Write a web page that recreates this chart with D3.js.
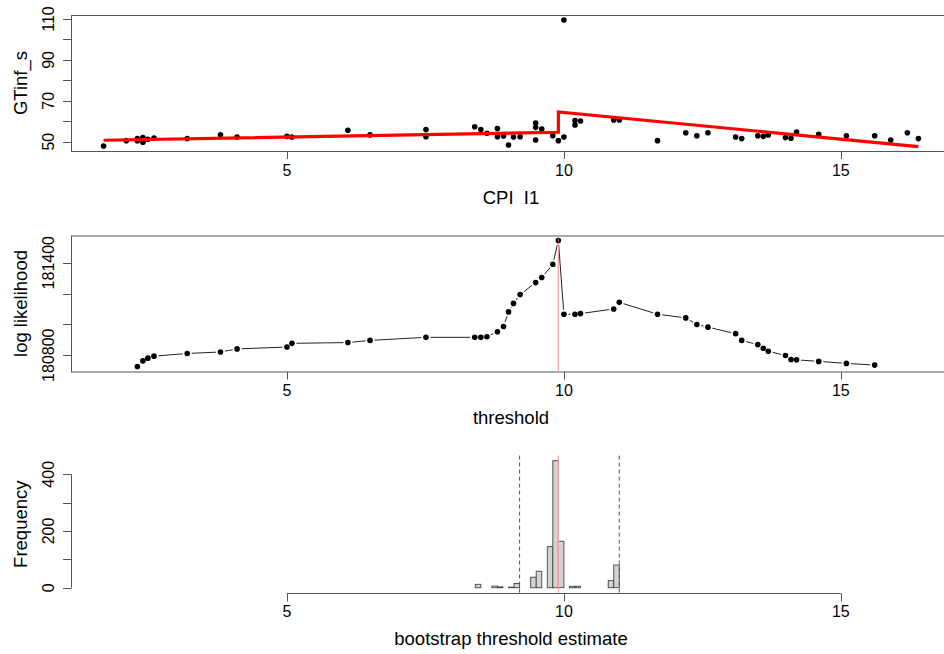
<!DOCTYPE html>
<html>
<head>
<meta charset="utf-8">
<script src="https://cdn.jsdelivr.net/npm/d3@7"></script>
<style>
  html, body { margin: 0; padding: 0; background: #fff; }
  svg { display: block; }
  text { font-family: "Liberation Sans", Arial, Helvetica, sans-serif; fill: #000; }
</style>
</head>
<body>
<svg id="chart" width="944" height="654"></svg>
<script>
// ---- Panel 1: GTinf_s against CPI_I1 with the two-regime fit ----
const cpi = [1.69, 2.10, 2.30, 2.30, 2.40, 2.40, 2.49, 2.60, 3.20, 3.80, 4.10, 5.00, 5.09, 6.10, 6.50,
  7.51, 7.51, 8.39, 8.50, 8.61, 8.80, 8.80, 8.91, 9.00, 9.09, 9.21, 9.49, 9.49, 9.49, 9.60, 9.80, 9.90,
  10.00, 10.00, 10.20, 10.20, 10.30, 10.90, 11.00, 11.69, 12.20, 12.40, 12.60, 13.10, 13.21, 13.50,
  13.60, 13.69, 14.00, 14.10, 14.20, 14.60, 15.10, 15.61, 15.90, 16.20, 16.40];
const gtinf = [47.9, 50.5, 51.5, 50.5, 52.0, 49.7, 51.2, 51.8, 51.5, 53.4, 52.3, 52.6, 52.3, 55.6, 53.3,
  55.9, 52.4, 57.3, 55.9, 54.1, 56.4, 52.4, 52.8, 48.4, 52.3, 52.4, 59.1, 57.0, 50.8, 56.2, 52.9, 50.5,
  52.3, 109.5, 60.3, 58.2, 60.1, 60.6, 60.6, 50.5, 54.4, 52.9, 54.4, 52.3, 51.5, 52.9, 52.6, 53.3,
  52.0, 51.7, 54.7, 53.6, 52.9, 52.9, 50.8, 54.4, 51.5];
// fitted regimes: below and above the threshold
const fitX = [1.69, 9.90, 9.90, 16.40];
const fitY = [50.7, 54.6, 64.5, 47.6];
const gtTicks = [50, 60, 70, 80, 90, 100, 110];
const gtLabels = [50, 70, 90, 110];

// ---- Panel 2: profile log likelihood over candidate thresholds ----
const thresholds = [2.30, 2.40, 2.49, 2.60, 3.20, 3.80, 4.10, 5.00, 5.09, 6.10, 6.50, 7.51, 8.39, 8.50,
  8.61, 8.80, 8.91, 9.00, 9.09, 9.21, 9.49, 9.60, 9.80, 9.90, 10.00, 10.20, 10.30, 10.90, 11.00, 11.69,
  12.20, 12.40, 12.60, 13.10, 13.21, 13.50, 13.60, 13.69, 14.00, 14.10, 14.20, 14.60, 15.10, 15.61];
const logLik = [180727, 180763, 180781, 180794, 180811, 180821, 180841, 180853, 180877, 180882,
  180896, 180916, 180916, 180916, 180920, 180952, 180986, 181081, 181136, 181194,
  181271, 181304, 181390, 181544, 181066, 181066, 181070, 181100, 181143, 181066,
  181042, 180999, 180982, 180940, 180896, 180869, 180845, 180826, 180798, 180772,
  180770, 180760, 180747, 180736];
const llTicks = [180800, 181000, 181200, 181400];
const llLabels = [180800, 181400];
const thresholdHat = 9.90;

// ---- Panel 3: bootstrap distribution of the threshold ----
const binStarts = [8.4, 8.5, 8.6, 8.7, 8.8, 8.9, 9.0, 9.1, 9.2, 9.3, 9.4, 9.5, 9.6, 9.7, 9.8, 9.9,
  10.0, 10.1, 10.2, 10.3, 10.4, 10.5, 10.6, 10.7, 10.8, 10.9];
const binCounts = [12, 0, 0, 6, 3, 0, 2, 15, 0, 0, 37, 58, 0, 145, 448, 164,
  0, 5, 5, 0, 0, 0, 0, 0, 25, 80];
const binWidth = 0.1;
const ciBounds = [9.2, 11.0];
const freqTicks = [0, 100, 200, 300, 400];
const freqLabels = [0, 200, 400];

const xTicks = [5, 10, 15];

const svg = d3.select("#chart");
const plotLeft = 71, plotRight = 951;
const tickFont = 16, titleFont = 18.5, tickLen = 8;
const axisCol = "#555";

// R-style 4% padded limits
function padded(ext) {
  const r = ext[1] - ext[0];
  return [ext[0] - 0.04 * r, ext[1] + 0.04 * r];
}

const x = d3.scaleLinear().domain(padded(d3.extent(cpi))).range([plotLeft, plotRight]);

function panelFrame(top, bottom, y, yTicks, yLabels, yTitle, xTitle) {
  const g = svg.append("g");
  g.append("rect")
    .attr("x", plotLeft + 0.5).attr("y", top + 0.5)
    .attr("width", plotRight - plotLeft).attr("height", bottom - top)
    .attr("fill", "none").attr("stroke", axisCol).attr("stroke-width", 1);
  // x ticks
  xTicks.forEach(t => {
    const px = Math.round(x(t)) + 0.5;
    g.append("line").attr("x1", px).attr("x2", px)
      .attr("y1", bottom + 0.5).attr("y2", bottom + tickLen)
      .attr("stroke", axisCol);
    g.append("text").attr("x", x(t)).attr("y", bottom + 24.5)
      .attr("text-anchor", "middle").attr("font-size", tickFont).text(t);
  });
  // y ticks
  yTicks.forEach(t => {
    const py = Math.round(y(t)) + 0.5;
    g.append("line").attr("x1", plotLeft - tickLen).attr("x2", plotLeft + 0.5)
      .attr("y1", py).attr("y2", py).attr("stroke", axisCol);
  });
  yLabels.forEach(t => {
    g.append("text")
      .attr("transform", `translate(54,${y(t)}) rotate(-90)`)
      .attr("text-anchor", "middle").attr("font-size", tickFont).text(t);
  });
  g.append("text")
    .attr("transform", `translate(27,${(top + bottom) / 2}) rotate(-90)`)
    .attr("text-anchor", "middle").attr("font-size", titleFont).text(yTitle);
  g.append("text").attr("x", (plotLeft + plotRight) / 2).attr("y", bottom + 52.5)
    .attr("text-anchor", "middle").attr("font-size", titleFont)
    .attr("xml:space", "preserve").style("white-space", "pre").text(xTitle);
  return g;
}

// ---------- Panel 1 ----------
{
  const top = 15, bottom = 151;
  const y = d3.scaleLinear().domain(padded(d3.extent(gtinf))).range([bottom, top]);
  const g = panelFrame(top, bottom, y, gtTicks, gtLabels, "GTinf_s", "CPI  I1");
  const pts = cpi.map((v, i) => [v, gtinf[i]]);
  g.append("g").selectAll("circle").data(pts).join("circle")
    .attr("cx", d => x(d[0])).attr("cy", d => y(d[1])).attr("r", 2.8).attr("fill", "#000");
  const fit = fitX.map((v, i) => [v, fitY[i]]);
  g.append("path").datum(fit)
    .attr("d", d3.line().x(d => x(d[0])).y(d => y(d[1])))
    .attr("fill", "none").attr("stroke", "#ff0000").attr("stroke-width", 3.2);
}

// ---------- Panel 2 ----------
{
  const top = 235.5, bottom = 371.5;
  const y = d3.scaleLinear().domain(padded(d3.extent(logLik))).range([bottom, top]);
  const g = panelFrame(top, bottom, y, llTicks, llLabels, "log likelihood", "threshold");
  const pts = thresholds.map((v, i) => [x(v), y(logLik[i])]);
  // connecting segments with a gap around each point
  const gap = 4.5;
  for (let i = 0; i < pts.length - 1; i++) {
    const [x0, y0] = pts[i], [x1, y1] = pts[i + 1];
    const len = Math.hypot(x1 - x0, y1 - y0);
    if (len <= 2 * gap) continue;
    const ux = (x1 - x0) / len, uy = (y1 - y0) / len;
    g.append("line")
      .attr("x1", x0 + ux * gap).attr("y1", y0 + uy * gap)
      .attr("x2", x1 - ux * gap).attr("y2", y1 - uy * gap)
      .attr("stroke", "#222").attr("stroke-width", 1);
  }
  g.append("line")
    .attr("x1", x(thresholdHat)).attr("x2", x(thresholdHat))
    .attr("y1", top).attr("y2", bottom)
    .attr("stroke", "#f4a3ac").attr("stroke-width", 1.2);
  g.append("g").selectAll("circle").data(pts).join("circle")
    .attr("cx", d => d[0]).attr("cy", d => d[1]).attr("r", 2.8).attr("fill", "#000");
  g.append("line")
    .attr("x1", x(thresholdHat)).attr("x2", x(thresholdHat))
    .attr("y1", top).attr("y2", bottom)
    .attr("stroke", "#f4a3ac").attr("stroke-width", 1).attr("opacity", 0.55);
}

// ---------- Panel 3 ----------
{
  const top = 455.6, bottom = 592.8;
  const y = d3.scaleLinear().domain(padded([0, d3.max(binCounts)])).range([bottom, top]);
  const g = svg.append("g");
  // bars
  g.append("g").selectAll("rect").data(binStarts.map((b, i) => [b, binCounts[i]])).join("rect")
    .attr("x", d => x(d[0]))
    .attr("width", d => x(d[0] + binWidth) - x(d[0]))
    .attr("y", d => y(d[1]))
    .attr("height", d => y(0) - y(d[1]))
    .attr("fill", "#d3d3d3").attr("stroke", "#444").attr("stroke-width", 0.9);
  // bootstrap interval bounds
  ciBounds.forEach(c => {
    g.append("line").attr("x1", x(c)).attr("x2", x(c))
      .attr("y1", top).attr("y2", bottom)
      .attr("stroke", "#555").attr("stroke-width", 1).attr("stroke-dasharray", "4,3");
  });
  g.append("line").attr("x1", x(thresholdHat)).attr("x2", x(thresholdHat))
    .attr("y1", top).attr("y2", bottom)
    .attr("stroke", "#f4a3ac").attr("stroke-width", 1.2);
  // x axis from first to last tick
  const ax = Math.round(bottom) + 0.5;
  g.append("line").attr("x1", x(xTicks[0])).attr("x2", x(xTicks[xTicks.length - 1]))
    .attr("y1", ax).attr("y2", ax).attr("stroke", axisCol);
  xTicks.forEach(t => {
    const px = Math.round(x(t)) + 0.5;
    g.append("line").attr("x1", px).attr("x2", px).attr("y1", ax).attr("y2", ax + tickLen)
      .attr("stroke", axisCol);
    g.append("text").attr("x", x(t)).attr("y", bottom + 24.5)
      .attr("text-anchor", "middle").attr("font-size", tickFont).text(t);
  });
  // y axis from 0 to 400
  g.append("line").attr("x1", plotLeft + 0.5).attr("x2", plotLeft + 0.5)
    .attr("y1", y(freqTicks[0])).attr("y2", y(freqTicks[freqTicks.length - 1]))
    .attr("stroke", axisCol);
  freqTicks.forEach(t => {
    const py = Math.round(y(t)) + 0.5;
    g.append("line").attr("x1", plotLeft - tickLen).attr("x2", plotLeft + 0.5)
      .attr("y1", py).attr("y2", py).attr("stroke", axisCol);
  });
  freqLabels.forEach(t => {
    g.append("text").attr("transform", `translate(54,${y(t)}) rotate(-90)`)
      .attr("text-anchor", "middle").attr("font-size", tickFont).text(t);
  });
  g.append("text").attr("transform", `translate(27,${(top + bottom) / 2}) rotate(-90)`)
    .attr("text-anchor", "middle").attr("font-size", titleFont).text("Frequency");
  g.append("text").attr("x", (plotLeft + plotRight) / 2).attr("y", bottom + 52.5)
    .attr("text-anchor", "middle").attr("font-size", titleFont).text("bootstrap threshold estimate");
}
</script>
</body>
</html>
